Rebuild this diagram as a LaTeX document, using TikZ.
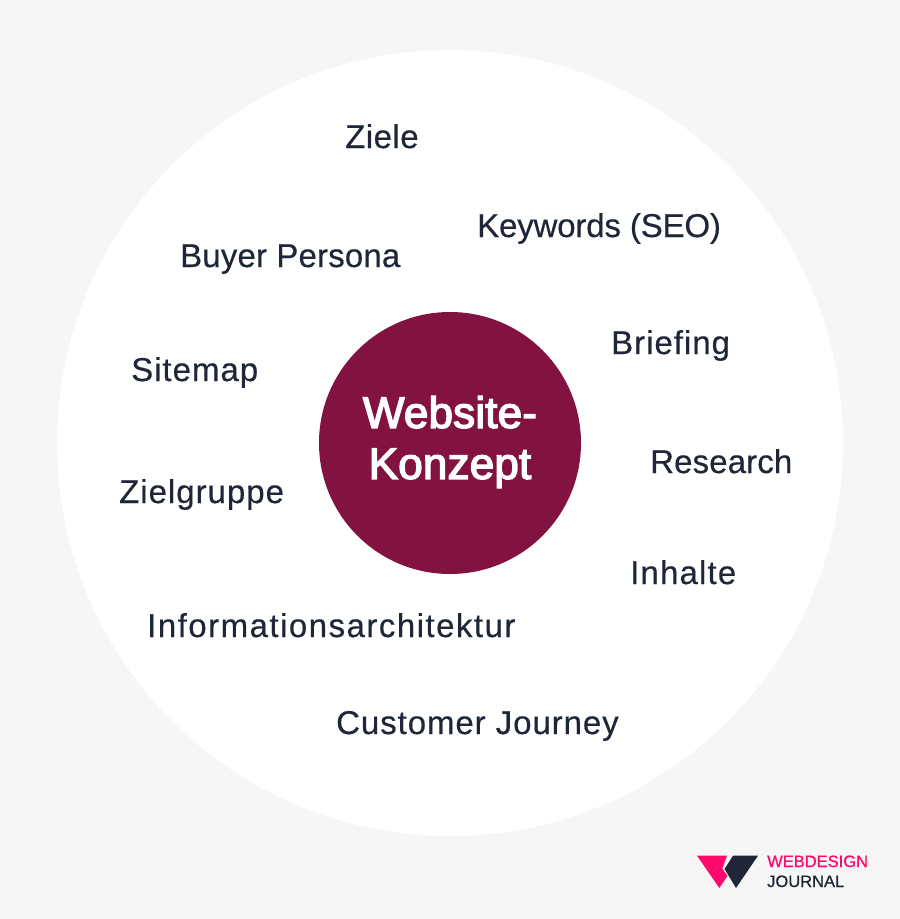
\documentclass[tikz,border=0pt]{standalone}
\usepackage{fontspec}
\setmainfont[FakeBold=0.4]{Liberation Sans}
\newfontfamily\titlefont[FakeBold=3.2,LetterSpace=0.4]{Liberation Sans}
\newfontfamily\logofont[FakeBold=0.8]{Liberation Sans}
\definecolor{bgc}{HTML}{F6F6F6}
\definecolor{txtc}{HTML}{1F2638}
\definecolor{wine}{HTML}{821240}
\definecolor{pinkc}{HTML}{FF0A6C}
\newcommand\spaced[2]{{\addfontfeature{LetterSpace=#1}#2}}
\tikzset{x=1pt,y=-1pt,
 lbl/.style={text=txtc,font=\fontsize{33}{36}\selectfont,inner sep=0pt,anchor=base west},
 logotext/.style={inner sep=0pt,anchor=base west,font=\logofont\fontsize{16.5}{20}\selectfont}}
\begin{document}
\begin{tikzpicture}
\path[use as bounding box,fill=bgc] (0,0) rectangle (900,919);
\fill[white] (450,443) circle[radius=393];
\node[circle,fill=wine,minimum size=262pt,inner sep=0pt] (core) at (450,443) {};
\node[text=white,font=\titlefont\fontsize{44}{51}\selectfont,align=center,inner sep=0pt] (title) at (450,442) {Website-\\Konzept};
\node[lbl] (a) at (345,148) {\spaced{1.5}{Ziele}};
\node[lbl] (b) at (477,237) {\spaced{-0.5}{Keywords (SEO)}};
\node[lbl] (c) at (180,267) {\spaced{0.5}{Buyer Persona}};
\node[lbl] (d) at (611,354) {\spaced{3}{Briefing}};
\node[lbl] (e) at (131,381) {\spaced{3}{Sitemap}};
\node[lbl] (f) at (650,473) {\spaced{0.4}{Research}};
\node[lbl] (g) at (119,503) {\spaced{3}{Zielgruppe}};
\node[lbl] (h) at (630,584) {\spaced{3.5}{Inhalte}};
\node[lbl] (i) at (147,637) {\spaced{4.5}{Informationsarchitektur}};
\node[lbl] (j) at (336,734) {\spaced{2.8}{Customer Journey}};
\fill[pinkc] (697,855.7) -- (727,855.7) -- (722.3,868.5) -- (727.5,876) -- (719.3,888) -- cycle;
\fill[txtc] (758,855.7) -- (733,855.7) -- (724.5,869) -- (736,888) -- cycle;
\node[logotext,text=pinkc] (w) at (767,867) {WEBDESIGN};
\node[logotext,text=txtc] (l) at (767,887) {JOURNAL};
\end{tikzpicture}
\end{document}
